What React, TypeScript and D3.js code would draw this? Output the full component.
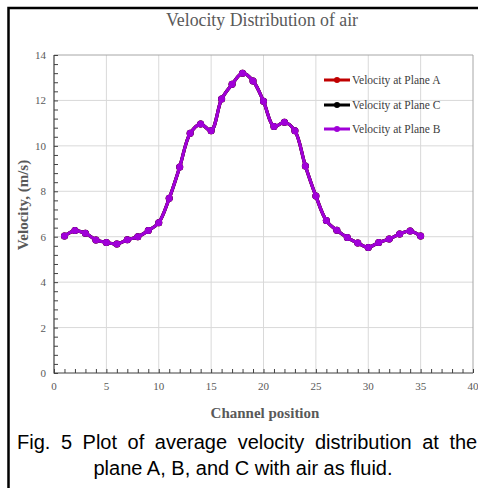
import React, { useEffect, useRef } from "react";
import * as d3 from "d3";

// channel positions and velocities
const positions = [1, 2, 3, 4, 5, 6, 7, 8, 9, 10, 11, 12, 13, 14, 15, 16, 17, 18, 19, 20, 21, 22, 23, 24, 25, 26, 27, 28, 29, 30, 31, 32, 33, 34, 35];
const planeB = [6.03, 6.27, 6.15, 5.86, 5.75, 5.68, 5.87, 6.0, 6.27, 6.62, 7.69, 9.07, 10.55, 10.96, 10.67, 12.06, 12.71, 13.2, 12.86, 11.96, 10.85, 11.04, 10.66, 9.11, 7.79, 6.71, 6.28, 5.96, 5.72, 5.53, 5.75, 5.9, 6.12, 6.25, 6.03];
const planeA = planeB.slice();
const planeC = planeB.slice();

const seriesNames = ["Velocity at Plane A", "Velocity at Plane C", "Velocity at Plane B"];
const seriesColors = ["#c00000", "#000000", "#a000d8"];

const xTicks = [0, 5, 10, 15, 20, 25, 30, 35, 40];
const yTicks = [0, 2, 4, 6, 8, 10, 12, 14];

export default function App() {
  const ref = useRef<SVGSVGElement>(null);

  useEffect(() => {
    const svg = d3.select(ref.current);
    svg.selectAll("*").remove();

    const left = 54, right = 473, top = 55, bottom = 373;
    const x = d3.scaleLinear().domain([0, 40]).range([left, right]);
    const y = d3.scaleLinear().domain([0, 14]).range([bottom, top]);
    const serif = "'Liberation Serif', 'Times New Roman', serif";

    svg.append("rect").attr("width", 478).attr("height", 488).attr("fill", "#fff");
    // figure frame
    svg.append("rect")
      .attr("x", 8.5).attr("y", 8).attr("width", 500).attr("height", 500)
      .attr("fill", "none").attr("stroke", "#000").attr("stroke-width", 2.5);

    // grid
    const grid = svg.append("g").attr("stroke", "#d9d9d9").attr("stroke-width", 1);
    xTicks.slice(1, -1).forEach((t) => {
      grid.append("line").attr("x1", x(t)).attr("x2", x(t)).attr("y1", top).attr("y2", bottom);
    });
    yTicks.slice(1, -1).forEach((t) => {
      grid.append("line").attr("x1", left).attr("x2", right).attr("y1", y(t)).attr("y2", y(t));
    });
    svg.append("path")
      .attr("d", `M${left},${top}H${right}V${bottom}`)
      .attr("fill", "none").attr("stroke", "#a6a6a6").attr("stroke-width", 1);

    // axes with inward ticks
    const yAxis = svg.append("g").attr("transform", `translate(${left},0)`)
      .call(d3.axisRight(y).tickValues(d3.range(0, 14.01, 0.4)).tickSize(4).tickFormat(() => ""));
    yAxis.select(".domain").remove();
    yAxis.selectAll("line").attr("stroke", "#404040");
    const xAxis = svg.append("g").attr("transform", `translate(0,${bottom})`)
      .call(d3.axisTop(x).tickValues(d3.range(0, 41, 1)).tickSize(4).tickFormat(() => ""));
    xAxis.select(".domain").remove();
    xAxis.selectAll("line").attr("stroke", "#404040");
    svg.append("path")
      .attr("d", `M${left},${top}V${bottom}H${right}`)
      .attr("fill", "none").attr("stroke", "#404040").attr("stroke-width", 1.2);

    // tick labels
    svg.append("g").selectAll("text").data(yTicks).join("text")
      .attr("x", left - 8).attr("y", (d) => y(d) + 4)
      .attr("text-anchor", "end").attr("font-family", serif).attr("font-size", 11)
      .attr("fill", "#595959").text((d) => d);
    svg.append("g").selectAll("text").data(xTicks).join("text")
      .attr("x", (d) => x(d)).attr("y", bottom + 17)
      .attr("text-anchor", "middle").attr("font-family", serif).attr("font-size", 11)
      .attr("fill", "#595959").text((d) => d);

    // series
    const all = [planeA, planeC, planeB];
    const line = d3.line<number>()
      .x((_, i) => x(positions[i]))
      .y((d) => y(d))
      .curve(d3.curveCatmullRom.alpha(0.5));
    all.forEach((vals, k) => {
      const g = svg.append("g");
      g.append("path").attr("d", line(vals)).attr("fill", "none")
        .attr("stroke", seriesColors[k]).attr("stroke-width", 3.2);
      g.selectAll("circle").data(vals).join("circle")
        .attr("cx", (_, i) => x(positions[i])).attr("cy", (d) => y(d))
        .attr("r", 3.5).attr("fill", seriesColors[k]);
    });

    // legend
    const legendY = [80, 105, 129];
    seriesNames.forEach((name, k) => {
      const g = svg.append("g").attr("transform", `translate(324,${legendY[k]})`);
      g.append("line").attr("x1", 0).attr("x2", 26).attr("stroke", seriesColors[k]).attr("stroke-width", 3);
      g.append("circle").attr("cx", 13).attr("r", 3).attr("fill", seriesColors[k]);
      g.append("text").attr("x", 28).attr("y", 4).attr("font-family", serif)
        .attr("font-size", 11.5).attr("fill", "#404040").text(name);
    });

    // titles
    svg.append("text").attr("x", 262).attr("y", 26).attr("text-anchor", "middle")
      .attr("font-family", serif).attr("font-size", 17.8).attr("fill", "#595959")
      .text("Velocity Distribution of air");
    svg.append("text").attr("x", 265).attr("y", 418).attr("text-anchor", "middle")
      .attr("font-family", serif).attr("font-size", 15).attr("font-weight", "bold").attr("fill", "#595959")
      .text("Channel position");
    svg.append("text").attr("transform", "translate(28,205) rotate(-90)").attr("text-anchor", "middle")
      .attr("font-family", serif).attr("font-size", 15).attr("font-weight", "bold").attr("fill", "#595959")
      .text("Velocity, (m/s)");

    // caption (first line justified)
    const sans = "'Liberation Sans', Arial, sans-serif";
    svg.append("text").attr("x", 17).attr("y", 449)
      .attr("font-family", sans).attr("font-size", 20).attr("word-spacing", 5).attr("fill", "#000")
      .text("Fig. 5 Plot of average velocity distribution at the");
    svg.append("text").attr("x", 243).attr("y", 475).attr("text-anchor", "middle")
      .attr("font-family", sans).attr("font-size", 20).attr("fill", "#000")
      .text("plane A, B, and C with air as fluid.");
  }, []);

  return (
    <svg ref={ref} width={478} height={488}
      style={{ position: "absolute", left: 0, top: 0, display: "block" }} />
  );
}
